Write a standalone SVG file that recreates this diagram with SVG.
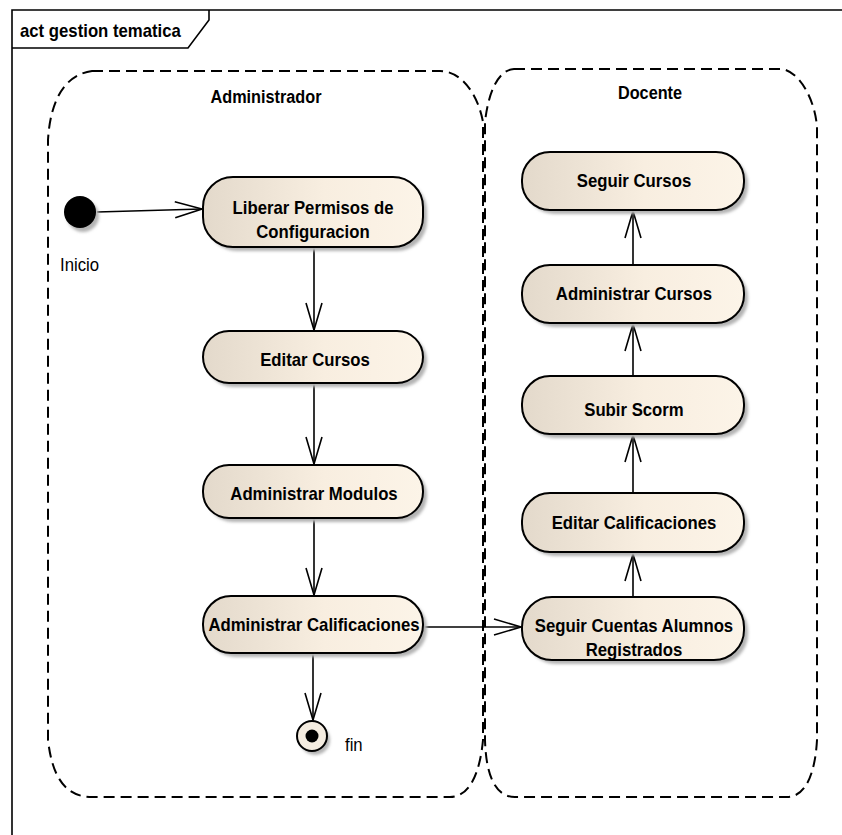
<svg xmlns="http://www.w3.org/2000/svg" width="842" height="835" viewBox="0 0 842 835">
  <defs>
    <linearGradient id="actFill" x1="0" y1="0" x2="1" y2="0">
      <stop offset="0" stop-color="#e3d9cb"/>
      <stop offset="0.55" stop-color="#f8eee0"/>
      <stop offset="1" stop-color="#fcf4e8"/>
    </linearGradient>
    <filter id="soft" x="-10%" y="-10%" width="130%" height="140%">
      <feGaussianBlur stdDeviation="1.4"/>
    </filter>
    <marker id="open" markerUnits="userSpaceOnUse" markerWidth="32" markerHeight="22" viewBox="-30 -11 32 22" refX="0" refY="0" orient="auto">
      <path d="M -27,-8 L 0,0 L -27,8" fill="none" stroke="#000" stroke-width="1.6"/>
    </marker>
  </defs>
  <style>
    .frame { fill: none; stroke: #000; stroke-width: 1.6; }
    .lane { fill: none; stroke: #000; stroke-width: 2; stroke-dasharray: 11 6; }
    text { font-family: "Liberation Sans", Arial, sans-serif; fill: #000;
           transform-box: fill-box; transform: scaleX(0.93); }
    .lanelabel { font-size: 17.5px; font-weight: bold; text-anchor: middle; transform-origin: center; }
    .title { font-size: 18px; font-weight: bold; transform-origin: left; }
    .shadow { fill: #b4b4b4; filter: url(#soft); }
    .act { fill: url(#actFill); stroke: #000; stroke-width: 2; }
    .label { font-size: 18px; font-weight: bold; text-anchor: middle; transform-origin: center; }
    .plain { font-size: 18px; transform-origin: left; }
    .flow { fill: none; stroke: #000; stroke-width: 1.6; marker-end: url(#open); }
  </style>

  <rect width="842" height="835" fill="#fff"/>

  <!-- diagram frame (runs past the right and bottom edges) with its name tab -->
  <g id="frame">
    <path class="frame" d="M 900,10 H 12 V 900"/>
    <path class="frame" d="M 12,48 H 188 L 209,20 V 10"/>
    <text class="title" x="20" y="37">act gestion tematica</text>
  </g>

  <!-- partitions -->
  <g id="lane-administrador">
    <path class="lane" d="M 92,71 H 440 C 462,71 478,95 483,122 V 740 C 480,772 470,797 450,797 H 92 C 64,797 52,775 48,740 V 140 C 50,105 62,75 92,71 Z"/>
    <text class="lanelabel" x="266" y="103">Administrador</text>
  </g>
  <g id="lane-docente">
    <path class="lane" d="M 514,69 H 782 C 800,72 815,100 817,127 V 740 C 815,775 805,797 787,797 H 515 C 495,797 486,775 485,740 V 122 C 488,95 497,70 514,69 Z"/>
    <text class="lanelabel" x="650" y="99">Docente</text>
  </g>

  <!-- connectors -->
  <g id="connectors">
    <path class="flow" d="M 97,212 L 202,209"/>
    <path class="flow" d="M 314,247 V 330"/>
    <path class="flow" d="M 314,383 V 464"/>
    <path class="flow" d="M 314,518 V 595"/>
    <path class="flow" d="M 313,653 V 720"/>
    <path class="flow" d="M 423,627 H 521"/>
    <path class="flow" d="M 633,597 V 554"/>
    <path class="flow" d="M 633,493 V 435"/>
    <path class="flow" d="M 633,376 V 324"/>
    <path class="flow" d="M 633,265 V 211"/>
  </g>

  <!-- Administrador actions -->
  <g id="inicio">
    <circle class="shadow" cx="83" cy="216" r="16"/>
    <circle cx="80" cy="212" r="16" fill="#000"/>
    <text class="plain" x="60" y="271">Inicio</text>
  </g>
  <g id="liberar-permisos">
    <rect class="shadow" x="207" y="181" width="220" height="70" rx="30"/>
    <rect class="act" x="203" y="177" width="220" height="70" rx="30"/>
    <text class="label" x="313" y="214">Liberar Permisos de</text>
    <text class="label" x="313" y="238">Configuracion</text>
  </g>
  <g id="editar-cursos">
    <rect class="shadow" x="207" y="335" width="220" height="52" rx="26"/>
    <rect class="act" x="203" y="331" width="220" height="52" rx="26"/>
    <text class="label" x="315" y="366">Editar Cursos</text>
  </g>
  <g id="administrar-modulos">
    <rect class="shadow" x="207" y="469" width="220" height="53" rx="26"/>
    <rect class="act" x="203" y="465" width="220" height="53" rx="26"/>
    <text class="label" x="314" y="500">Administrar Modulos</text>
  </g>
  <g id="administrar-calificaciones">
    <rect class="shadow" x="207" y="600" width="220" height="57" rx="28"/>
    <rect class="act" x="203" y="596" width="220" height="57" rx="28"/>
    <text class="label" x="314" y="631">Administrar Calificaciones</text>
  </g>
  <g id="fin">
    <circle class="shadow" cx="315" cy="740" r="15"/>
    <circle cx="312" cy="736" r="15" fill="#f4ece0" stroke="#000" stroke-width="2"/>
    <circle cx="312" cy="736" r="6.5" fill="#000"/>
    <text class="plain" x="345" y="751">fin</text>
  </g>

  <!-- Docente actions -->
  <g id="seguir-cursos">
    <rect class="shadow" x="526" y="156" width="222" height="58" rx="28"/>
    <rect class="act" x="522" y="152" width="222" height="58" rx="28"/>
    <text class="label" x="634" y="187">Seguir Cursos</text>
  </g>
  <g id="administrar-cursos">
    <rect class="shadow" x="526" y="269" width="222" height="58" rx="28"/>
    <rect class="act" x="522" y="265" width="222" height="58" rx="28"/>
    <text class="label" x="634" y="300">Administrar Cursos</text>
  </g>
  <g id="subir-scorm">
    <rect class="shadow" x="526" y="380" width="222" height="58" rx="28"/>
    <rect class="act" x="522" y="376" width="222" height="58" rx="28"/>
    <text class="label" x="634" y="416">Subir Scorm</text>
  </g>
  <g id="editar-calificaciones">
    <rect class="shadow" x="526" y="497" width="222" height="59" rx="28"/>
    <rect class="act" x="522" y="493" width="222" height="59" rx="28"/>
    <text class="label" x="634" y="529">Editar Calificaciones</text>
  </g>
  <g id="seguir-cuentas">
    <rect class="shadow" x="526" y="601" width="222" height="63" rx="30"/>
    <rect class="act" x="522" y="597" width="222" height="63" rx="30"/>
    <text class="label" x="634" y="632">Seguir Cuentas Alumnos</text>
    <text class="label" x="634" y="656">Registrados</text>
  </g>
</svg>
